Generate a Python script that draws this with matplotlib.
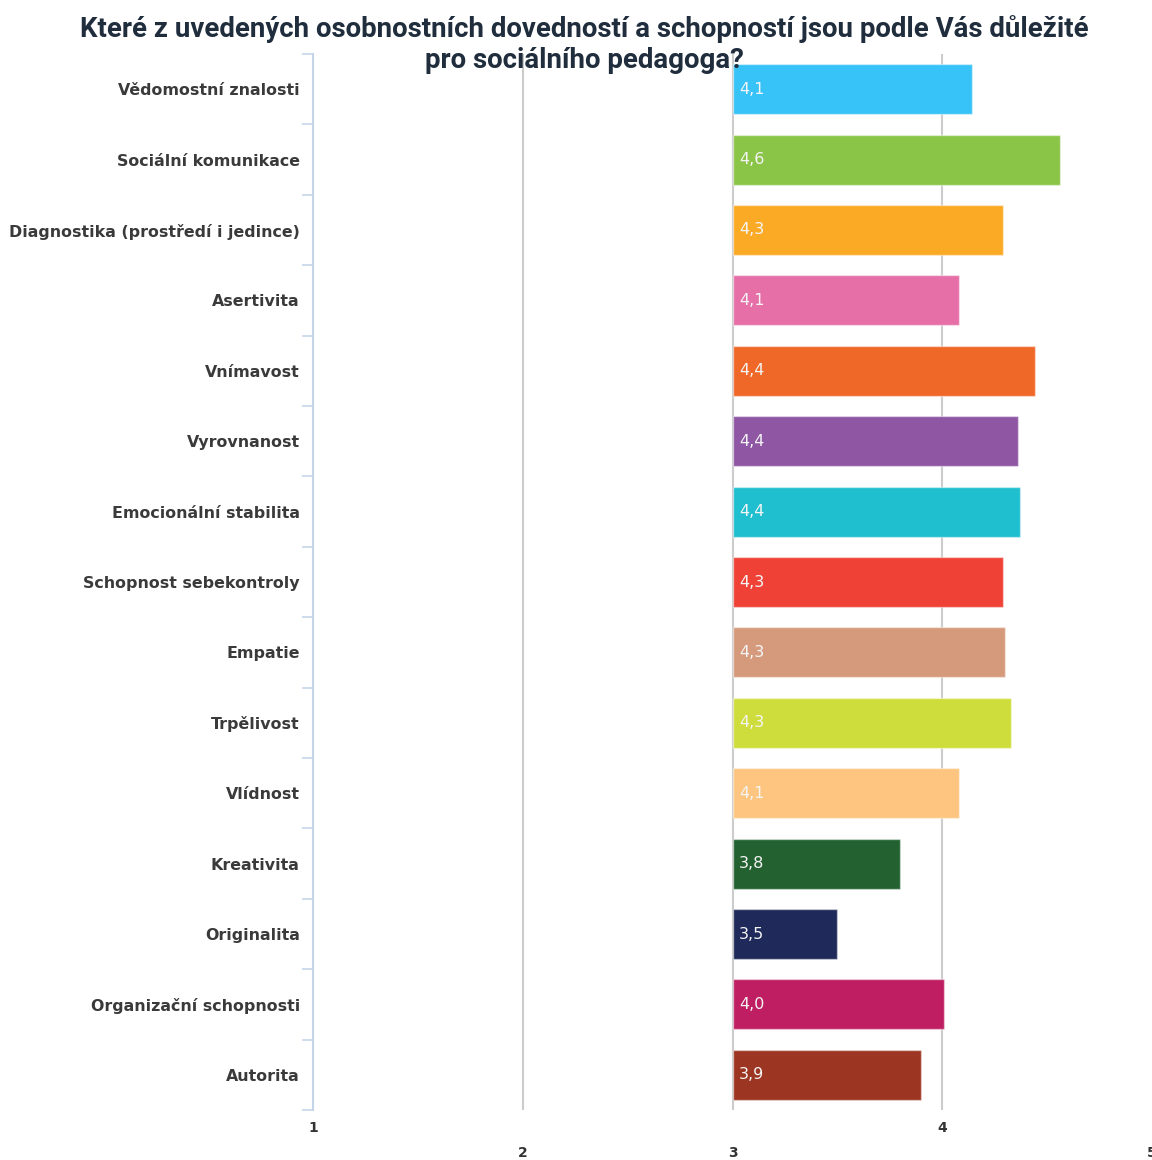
import matplotlib

matplotlib.use("Agg")
import matplotlib.pyplot as plt
import numpy as np

plt.rcParams["font.family"] = ["DejaVu Sans"]

# data
categories = [
    "Vědomostní znalosti",
    "Sociální komunikace",
    "Diagnostika (prostředí i jedince)",
    "Asertivita",
    "Vnímavost",
    "Vyrovnanost",
    "Emocionální stabilita",
    "Schopnost sebekontroly",
    "Empatie",
    "Trpělivost",
    "Vlídnost",
    "Kreativita",
    "Originalita",
    "Organizační schopnosti",
    "Autorita",
]
scores = [4.14, 4.56, 4.29, 4.08, 4.44, 4.36, 4.37, 4.29, 4.30, 4.33, 4.08, 3.80, 3.50, 4.01, 3.90]
bar_colors = [
    "#38c3f8", "#8bc548", "#fbaa25", "#e66fa8", "#f06827",
    "#8e56a3", "#1fbfd0", "#ef4136", "#d59a7c", "#cedd3b",
    "#fdc57f", "#236131", "#1f2a5a", "#c01e62", "#9c3522",
]
x_ticks = [1, 2, 3, 4, 5]
bar_base = 3

title = ("Které z uvedených osobnostních dovedností a schopností jsou podle Vás důležité\n"
         "pro sociálního pedagoga?")

fig = plt.figure(figsize=(11.52, 11.6), dpi=100)
ax = fig.add_axes([313 / 1152, 50 / 1160, 1 - 313 / 1152, 1056 / 1160])

ypos = np.arange(len(categories))
widths = [s - bar_base for s in scores]
ax.barh(ypos, widths, left=bar_base, height=0.71, color=bar_colors,
        edgecolor=(1, 1, 1, 0.45), linewidth=1.0, zorder=2)

for y, s in zip(ypos, scores):
    ax.text(bar_base + 0.03, y, f"{s:.1f}".replace(".", ","), color="#f4f4f4",
            fontsize=11.5, va="center", ha="left", zorder=3)

ax.set_xlim(1, 5)
ax.set_ylim(len(categories) - 0.5, -0.5)

ax.set_yticks(ypos)
ax.set_yticklabels(categories, fontsize=11.4, fontweight="bold", color="#3a3a3a")
ax.set_yticks(np.arange(len(categories) + 1) - 0.5, minor=True)
ax.tick_params(axis="y", which="major", length=0, pad=9.5)
ax.tick_params(axis="y", which="minor", length=8, width=1.2, color="#c5d5e8")

ax.set_xticks(x_ticks)
ax.set_xticklabels([str(t) for t in x_ticks], fontsize=10, fontweight="bold", color="#333333")
ax.tick_params(axis="x", length=0)
ax.grid(axis="x", color="#cccccc", linewidth=1.5, zorder=0)
ax.set_axisbelow(True)
for i, tk in enumerate(ax.xaxis.get_major_ticks()):
    tk.set_pad(8 if x_ticks[i] in (1, 4) else 26)
ax.xaxis.get_major_ticks()[-1].gridline.set_visible(False)

for side in ["top", "right", "bottom"]:
    ax.spines[side].set_visible(False)
ax.spines["left"].set_color("#c5d5e8")
ax.spines["left"].set_linewidth(1.5)

fig.text(0.507, 1 - 15 / 1160, title, ha="center", va="top", fontsize=19.9,
         fontweight="bold", color="#1f2d3d", linespacing=1.2,
         family=["Roboto", "DejaVu Sans"])

fig.savefig("out.png", dpi=100)
